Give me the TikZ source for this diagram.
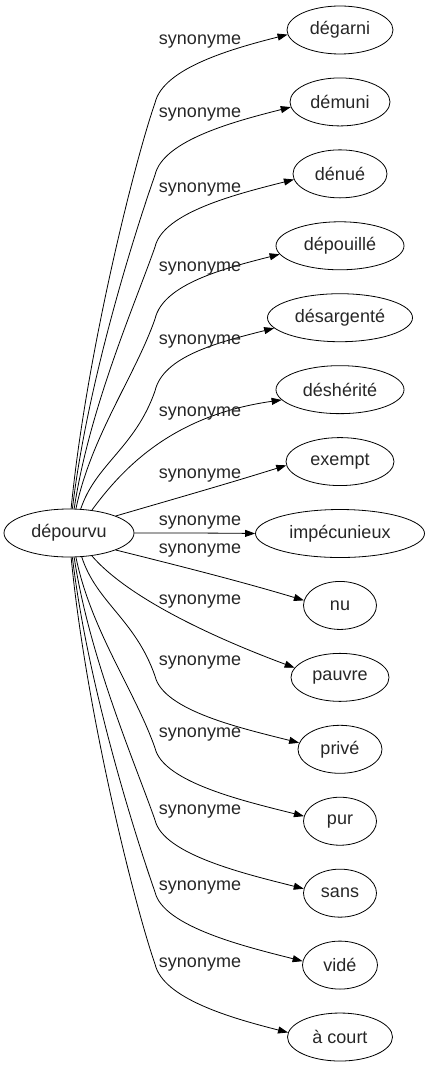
\documentclass[tikz,border=0pt]{standalone}
\usepackage{fontspec}
\setmainfont{Liberation Sans}
\usetikzlibrary{shapes.geometric,arrows.meta}
\tikzset{
  word/.style={draw=black, line width=.8pt, ellipse, inner sep=0pt, minimum height=48pt, text=black!85},
  syn/.style={line width=.8pt, -{Triangle[length=10pt,width=7pt]}},
  lbl/.style={text=black!85, inner sep=0pt}
}
\begin{document}
\begin{tikzpicture}[x=1pt,y=-1pt]
	\fontsize{18}{22}\selectfont
	\useasboundingbox (0,0) rectangle (428,1067);
	\node[word, minimum width=130pt] (src) at (69,533) {dépourvu};
	\foreach \n/\t/\w [count=\i from 0] in {degarni/dégarni/106,
							demuni/démuni/100,
							denue/dénué/94,
							depouille/dépouillé/128,
							desargente/désargenté/145,
							desherite/déshérité/128,
							exempt/exempt/108,
							impecunieux/impécunieux/169,
							nu/nu/73,
							pauvre/pauvre/98,
							prive/privé/84,
							pur/pur/73,
							sans/sans/73,
							vide/vidé/75,
							acourt/à court/105}
		\node[word, minimum width=\w pt] (\n) at (340,{30+71.93*\i}) {\t};
	% long edges going up, bent at x=155
	\foreach \n/\a/\ky/\d/\e in {degarni/85/103/154/185,
							demuni/82/175/127/186,
							denue/78/247/100/187,
							depouille/74/319/72/188,
							desargente/64/391/45/189}
		\draw[syn] (src.\a) .. controls +(15,-\d) and +(-20,57) .. (155,\ky)
			.. controls +(8,-35) and +(-55,14) .. (\n.\e);
	% long edges going down
	\foreach \n/\a/\ky/\d/\e in {prive/298/676/46/171,
							pur/286/748/73/172,
							sans/282/820/100/173,
							vide/278/892/127/174,
							acourt/275/964/155/175}
		\draw[syn] (src.\a) .. controls +(15,\d) and +(-20,-57) .. (155,\ky)
			.. controls +(8,35) and +(-55,-14) .. (\n.\e);
	% short edges
	\foreach \n/\a/\px/\py/\qx/\qy/\e in {desherite/45/125/465/175/415/190,
							exempt/20/174/499/230/483/184,
							impecunieux/0/175/533/215/533/180,
							nu/340/180/566/243/582/172,
							pauvre/315/130/600/220/640/168}
		\draw[syn] (src.\a) .. controls (\px,\py) and (\qx,\qy) .. (\n.\e);
	\foreach \y [count=\i] in {42,115,190,269,342,414,476,523,551,602,663,735,812,888,965}
		\node[lbl] (lab\i) at (200,\y) {synonyme};
\end{tikzpicture}
\end{document}
